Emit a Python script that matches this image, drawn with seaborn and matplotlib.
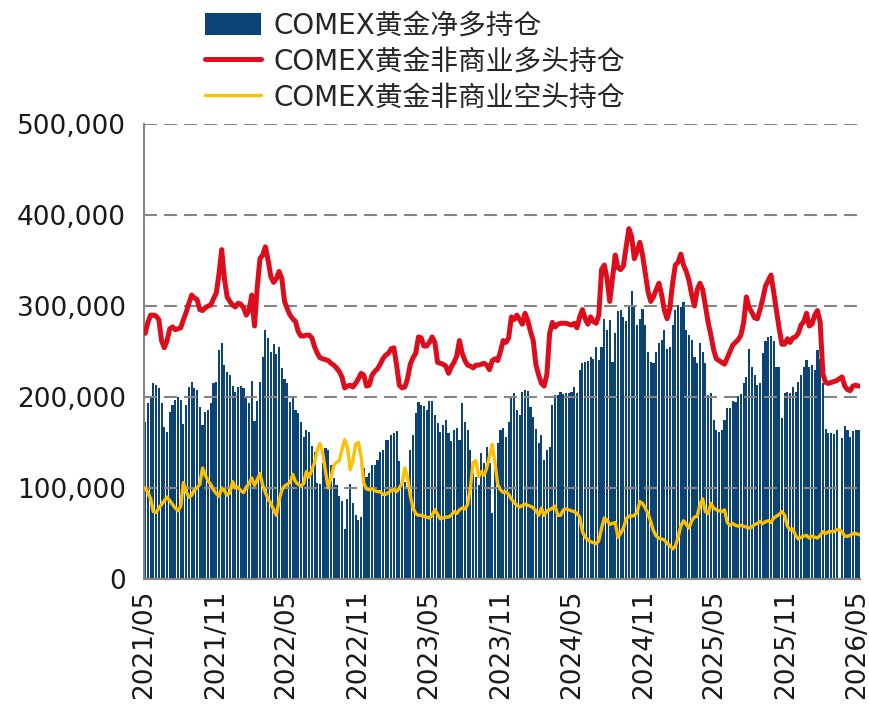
import numpy as np
import pandas as pd
import seaborn as sns
import matplotlib
matplotlib.use('Agg')
import matplotlib.pyplot as plt
import matplotlib.dates as mdates
from matplotlib.ticker import FuncFormatter

# weekly COMEX gold positions, thousand contracts
net_long = [
    172, 193, 199, 215, 213, 210, 193, 167, 162, 183, 191, 197, 200, 197, 170, 191, 211, 217, 210, 208,
    189, 169, 183, 186, 193, 215, 216, 252, 259, 235, 227,
    224, 212, 205, 211, 212, 210, 200, 193, 218, 174, 196, 216, 244, 274, 265, 250, 258, 247, 255, 232,
    220, 215, 194, 200, 186, 182, 173, 156, 164, 161, 146, 140, 106, 104,
    128, 144, 142, 125, 111, 103, 91, 86, 55, 88, 104, 84, 70, 65, 68,
    122, 112, 116, 125, 125, 131, 140, 142, 153, 153, 158, 160, 163, 130, 108, 107, 100,
    142, 158, 182, 195, 191, 190, 186, 196, 196, 180, 171, 161, 169, 175, 160, 152, 164, 166, 153, 193,
    173, 164, 142, 116, 112, 103, 138, 127, 145, 127, 72, 120,
    149, 164, 166, 156, 173, 200, 204, 186, 180, 205, 208, 207, 189, 178, 165, 150, 158, 131, 142, 145,
    191, 202, 202, 205, 203, 204, 204, 205, 211, 204, 230, 237,
    239, 240, 244, 242, 255, 241, 255, 286, 274, 285, 239, 270, 294, 296, 288, 283, 301, 316, 301, 279,
    286, 297, 279, 250, 239, 237, 250, 259, 263, 274, 253,
    255, 279, 296, 301, 299, 304, 274, 268, 263, 244, 237, 259, 250, 237, 202, 204, 175, 164, 162, 164,
    175, 188, 188, 196, 195, 201, 203, 215, 222, 253, 233, 224,
    213, 215, 248, 261, 266, 267, 261, 233, 233, 177, 204, 206, 204, 211, 206, 217, 224, 233, 241, 233,
    235, 230, 252, 242, 215, 165, 160, 160, 159, 164, 0, 155, 168, 164, 156, 163, 164, 164, 163,
]

long_nc = [
    270, 282, 290, 290, 289, 285, 262, 254, 262, 275, 277, 274, 275, 276, 285, 293, 303, 312, 309, 307,
    296, 295, 298, 300, 301, 308, 314, 335, 362, 330, 310,
    305, 301, 299, 303, 302, 298, 290, 295, 312, 278, 320, 352, 356, 365, 350, 332, 326, 330, 338, 330,
    305, 297, 290, 286, 283, 272, 267, 267, 268, 268, 265, 255, 248, 243,
    242, 241, 240, 237, 235, 232, 228, 222, 210, 212, 213, 211, 215, 220, 226, 224, 212, 213, 224, 228,
    231, 236, 242, 246, 248, 253, 254, 235, 213, 210, 211, 220,
    236, 243, 248, 266, 265, 256, 256, 260, 266, 260, 238, 237, 236, 234, 226, 233, 238, 245, 262, 248,
    240, 235, 234, 232, 235, 235, 236, 237, 235, 230, 240, 242,
    240, 250, 262, 260, 265, 288, 285, 290, 285, 280, 292, 284, 272, 262, 235, 224, 215, 212, 225, 270,
    282, 277, 280, 281, 281, 281, 280, 279, 281, 276, 288, 296,
    286, 280, 288, 283, 281, 290, 340, 345, 330, 305, 330, 356, 342, 340, 344, 365, 385, 376, 352, 360,
    370, 356, 336, 316, 305, 310, 318, 325, 312, 295, 286,
    298, 325, 345, 348, 357, 345, 338, 328, 312, 300, 318, 325, 318, 300, 282, 268, 252, 242, 240, 238,
    236, 243, 250, 257, 260, 263, 268, 282, 310, 298, 293, 287,
    286, 296, 308, 322, 328, 334, 315, 295, 275, 258, 258, 264, 260, 265, 266, 270, 279, 283, 292, 278,
    280, 290, 295, 282, 225, 216, 215, 216, 217, 218, 220, 222, 212, 208, 207, 212, 213, 212, 212,
]

short_nc = [
    100, 95, 88, 74, 73, 78, 82, 86, 90, 86, 82, 78, 75, 80, 106, 96, 90, 92, 98, 100,
    104, 122, 114, 108, 104, 98, 94, 91, 100, 97, 92,
    95, 107, 100, 101, 97, 95, 101, 105, 111, 103, 109, 116, 103, 95, 88, 83, 76, 70, 86, 98,
    102, 104, 106, 115, 107, 104, 102, 105, 118, 112, 120, 128, 142, 149,
    138, 118, 100, 112, 125, 128, 130, 142, 153, 145, 120, 130, 148, 150, 135, 105, 99, 98, 99, 97,
    96, 96, 93, 93, 95, 97, 98, 96, 100, 105, 122, 112,
    92, 78, 72, 70, 70, 69, 68, 67, 70, 76, 71, 66, 67, 68, 68, 70, 74, 72, 76, 78,
    77, 82, 100, 128, 130, 112, 118, 114, 122, 135, 148, 128,
    104, 98, 95, 96, 93, 88, 84, 81, 79, 81, 82, 81, 80, 78, 75, 70, 78, 70, 75, 76,
    78, 80, 70, 70, 76, 77, 76, 75, 74, 72, 68, 52,
    46, 43, 41, 40, 39, 42, 56, 67, 65, 60, 61, 62, 46, 50, 56, 66, 69, 69, 70, 73,
    85, 83, 78, 72, 63, 53, 47, 45, 44, 43, 39,
    37, 33, 36, 46, 58, 64, 60, 56, 64, 68, 69, 82, 88, 74, 72, 83, 78, 76, 75, 74,
    76, 62, 59, 61, 59, 58, 59, 58, 57, 56, 57, 60,
    61, 63, 61, 63, 64, 62, 67, 69, 71, 74, 70, 58, 54, 55, 48, 44, 46, 47, 48, 45,
    47, 46, 45, 48, 52, 50, 52, 52, 52, 54, 54, 52, 47, 47, 48, 50, 50, 49, 48,
]

series_labels = ['COMEX黄金净多持仓', 'COMEX黄金非商业多头持仓', 'COMEX黄金非商业空头持仓']
y_ticks = [0, 100000, 200000, 300000, 400000, 500000]

weeks = pd.date_range('2021-05-04', periods=len(net_long), freq='7D')
tick_dates = pd.date_range('2021-05-01', '2026-05-01', freq='6MS')

BLUE = '#0b4375'
RED = '#dd0d1c'
GOLD = '#fdbf00'
GREY = '#858585'

sns.set_style('white')
plt.rcParams['font.family'] = ['DejaVu Sans', 'Noto Sans CJK SC']

df = pd.DataFrame({
    'x': mdates.date2num(weeks),
    'net': np.array(net_long) * 1000,
    'long': np.array(long_nc) * 1000,
    'short': np.array(short_nc) * 1000,
})

fig = plt.figure(figsize=(8.69, 7.16), dpi=100)
ax = fig.add_axes([144 / 869, 1 - 579 / 716, 716 / 869, 455 / 716])

sns.barplot(data=df, x='x', y='net', orient='x', native_scale=True, width=0.78,
            color=BLUE, saturation=1, errorbar=None, label=series_labels[0],
            linewidth=0, edgecolor='none', zorder=1, ax=ax)
sns.lineplot(data=df, x='x', y='long', color=RED, linewidth=3.6,
             label=series_labels[1], zorder=4, ax=ax)
sns.lineplot(data=df, x='x', y='short', color=GOLD, linewidth=2.4,
             label=series_labels[2], zorder=4, ax=ax)

# axes
ax.set_ylim(0, 500000)
ax.set_yticks(y_ticks)
ax.yaxis.set_major_formatter(FuncFormatter(lambda v, p: f'{v:,.0f}'))
ax.set_xlim(mdates.date2num(pd.Timestamp('2021-05-01')),
            mdates.date2num(pd.Timestamp('2026-05-09')))
ax.set_xticks(mdates.date2num(tick_dates))
ax.set_xticklabels([d.strftime('%Y/%m') for d in tick_dates], rotation=90)
ax.set_xlabel('')
ax.set_ylabel('')

ax.set_axisbelow(False)
ax.yaxis.grid(True, color=GREY, linewidth=1.5, linestyle=(0, (6.2, 3.4)))
ax.xaxis.grid(False)
for side in ['top', 'right']:
    ax.spines[side].set_visible(False)
for side in ['left', 'bottom']:
    ax.spines[side].set_color(GREY)
    ax.spines[side].set_linewidth(1.5)
ax.tick_params(axis='both', colors=GREY, labelcolor='#1a1a1a', labelsize=19,
               length=6, width=1.5, direction='out')
ax.tick_params(axis='y', pad=7)
ax.tick_params(axis='x', pad=2)

# legend, bars first
handles, labels = ax.get_legend_handles_labels()
if ax.get_legend() is not None:
    ax.get_legend().remove()
order = [labels.index(s) for s in series_labels]
fig.legend([handles[i] for i in order], [labels[i] for i in order],
           loc='upper left', bbox_to_anchor=(205 / 869, 1 - 12 / 716),
           frameon=False, fontsize=20, handlelength=2.0, handleheight=0.85,
           handletextpad=0.45, labelspacing=0.28, borderpad=0, borderaxespad=0)

fig.savefig('out.png', dpi=100)
